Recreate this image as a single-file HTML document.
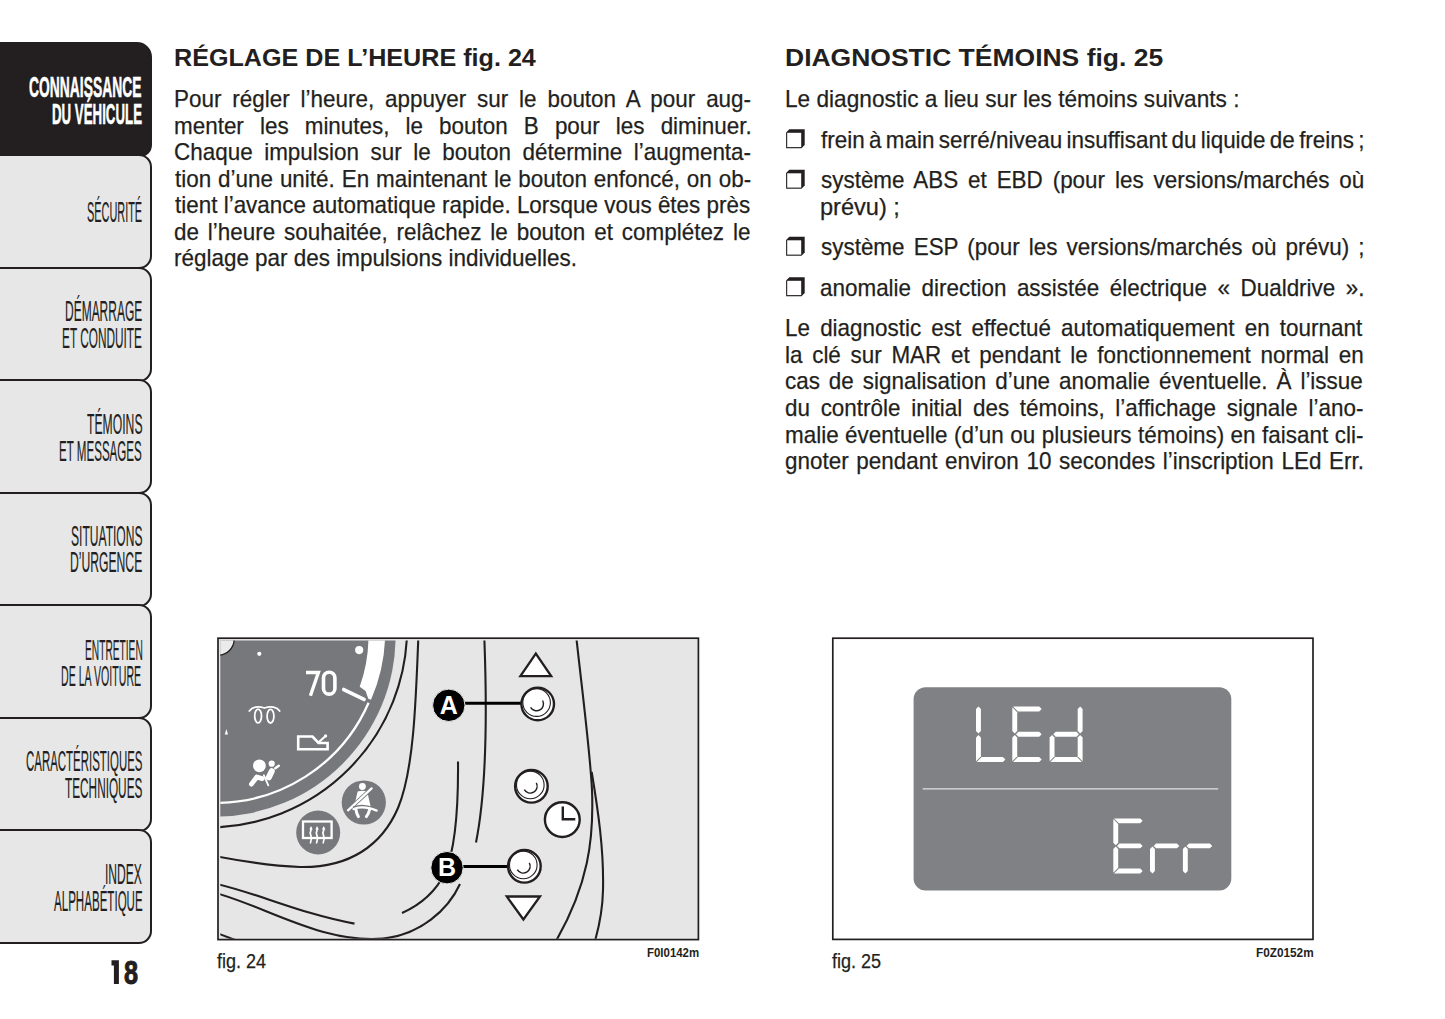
<!DOCTYPE html>
<html><head><meta charset="utf-8"><style>
html,body{margin:0;padding:0;background:#fff;}
body{width:1445px;height:1019px;position:relative;overflow:hidden;font-family:"Liberation Sans",sans-serif;color:#231f20;}
.t{position:absolute;white-space:nowrap;transform-origin:0 50%;}
.t.j{white-space:normal;text-align:justify;text-align-last:justify;}
.tab{position:absolute;left:-30px;width:182px;box-sizing:border-box;border:2.1px solid #231f20;border-radius:0 13px 13px 0;background:#e7e7e8;}
svg{position:absolute;overflow:hidden;}
</style></head><body>
<div class="tab" style="top:41.95px;height:114.6px;background:#231f20;border-radius:0 15px 12px 0;"></div>
<div class="tab" style="top:154.45px;height:114.6px;"></div>
<div class="tab" style="top:266.95px;height:114.6px;"></div>
<div class="tab" style="top:379.45px;height:114.6px;"></div>
<div class="tab" style="top:491.95px;height:114.6px;"></div>
<div class="tab" style="top:604.45px;height:114.6px;"></div>
<div class="tab" style="top:716.95px;height:114.6px;"></div>
<div class="tab" style="top:829.45px;height:114.6px;"></div>
<svg style="left:780px;top:120px" width="30" height="190" viewBox="780 120 30 190"><path d="M789.3 129.3 L804.7 129.3 L804.7 145.0 L801.5 148.2 L786.1 148.2 L786.1 132.5 Z" fill="#231f20"/><rect x="787.2" y="132.8" width="14.0" height="14.3" fill="#fff"/><path d="M789.3 169.8 L804.7 169.8 L804.7 185.5 L801.5 188.7 L786.1 188.7 L786.1 173.0 Z" fill="#231f20"/><rect x="787.2" y="173.3" width="14.0" height="14.3" fill="#fff"/><path d="M789.3 236.8 L804.7 236.8 L804.7 252.5 L801.5 255.7 L786.1 255.7 L786.1 240.0 Z" fill="#231f20"/><rect x="787.2" y="240.3" width="14.0" height="14.3" fill="#fff"/><path d="M789.3 277.3 L804.7 277.3 L804.7 293.0 L801.5 296.2 L786.1 296.2 L786.1 280.5 Z" fill="#231f20"/><rect x="787.2" y="280.8" width="14.0" height="14.3" fill="#fff"/></svg>
<svg style="left:105px;top:955px" width="20" height="35" viewBox="105 955 20 35"><path d="M111.5 960.2 L118.9 960.2 L118.9 983.9 L113.9 983.9 L113.9 965.6 L111.5 965.6 Z" fill="#231f20"/></svg>
<svg style="left:216px;top:636px" width="484" height="306" viewBox="216 636 484 306">
<defs><clipPath id="c24"><rect x="220.3" y="640.5" width="477.2" height="298.3"/></clipPath></defs>
<rect x="218" y="638.2" width="480.4" height="301.4" fill="#e6e6e7" stroke="#231f20" stroke-width="1.7"/>
<g clip-path="url(#c24)">
<circle cx="215" cy="636" r="180.6" fill="#77787b"/>
<circle cx="218" cy="639" r="16.2" fill="#ebebec" stroke="#231f20" stroke-width="1.3"/>
<path d="M368.5 625 L385 625 A168 168 0 0 1 371 699.8 L368.3 698.7 L365.6 691 L359.7 686.8 A151.5 151.5 0 0 0 368.5 637 Z" fill="#fff"/>
<path d="M368.6 702.8 A166.8 166.8 0 0 1 212 802.8" fill="none" stroke="#fff" stroke-width="2.3"/>
<line x1="343.8" y1="689.6" x2="364" y2="699.4" stroke="#fff" stroke-width="3.8" stroke-linecap="round"/>
<path d="M306 672.5 L318.4 672.5 L310.4 695.8" fill="none" stroke="#fff" stroke-width="3.4"/><rect x="323.5" y="672.2" width="11.4" height="21.9" rx="5.7" ry="5.7" fill="none" stroke="#fff" stroke-width="3.6"/>
<circle cx="259.3" cy="653.8" r="2.1" fill="#fff"/>
<circle cx="359.2" cy="650.1" r="4.1" fill="#fff"/>
<path d="M224.8 734.5 L226.4 729 L228 734.5 Z" fill="#fff"/>
<g fill="none" stroke="#fff" stroke-width="1.8" stroke-linecap="round">
<path d="M249.3 711 C252 707, 258 705.6, 264.4 708 C271 705.6, 277 707, 279.7 711"/>
<ellipse cx="258.1" cy="716" rx="3.4" ry="6.9"/>
<ellipse cx="270.5" cy="716.2" rx="3.4" ry="6.8"/>
</g>
<path d="M298.2 736.5 L312.5 736.5 L318.5 743 L327.6 743 L327.6 749.3 L298.2 749.3 Z" fill="none" stroke="#fff" stroke-width="2.6"/>
<line x1="319.5" y1="741.5" x2="325.6" y2="735.9" stroke="#fff" stroke-width="2.1" stroke-linecap="round"/>
<circle cx="325.6" cy="735.9" r="1.6" fill="#fff"/>
<circle cx="259.4" cy="765.8" r="6.4" fill="#fff"/>
<circle cx="271.7" cy="763.7" r="3.1" fill="#fff"/>
<g fill="none" stroke="#fff" stroke-linecap="round" stroke-linejoin="round">
<line x1="275.3" y1="768.2" x2="278.8" y2="765.8" stroke-width="2.5"/>
<line x1="271.8" y1="771.2" x2="268.8" y2="777.4" stroke-width="6"/>
<polyline points="251.4,784.1 256.8,777 262.2,778.6" stroke-width="4.8"/>
<line x1="263.8" y1="775.2" x2="268.3" y2="785.4" stroke-width="1.8"/>
</g>
<circle cx="363.8" cy="802.5" r="22.1" fill="#77787b"/>
<circle cx="362.4" cy="786.5" r="3.4" fill="#fff"/>
<path d="M357.6 791.6 Q362.2 789.8 367.2 791.4 L370.6 806.2 L354.2 806.2 Z" fill="#fff"/>
<line x1="347.6" y1="810.6" x2="372.2" y2="788" stroke="#77787b" stroke-width="4"/>
<line x1="348" y1="810.3" x2="371.6" y2="788.4" stroke="#fff" stroke-width="2.3" stroke-linecap="round"/>
<path d="M353 807.2 Q362.5 803.2 374 808" fill="none" stroke="#77787b" stroke-width="1.3"/>
<path d="M353.5 809 Q363 805.2 376.7 810.6" fill="none" stroke="#fff" stroke-width="2.3" stroke-linecap="round"/>
<path d="M355.8 809 Q356.6 814 358.4 816.6 M369.8 809 Q368.6 814 366.4 816.6" fill="none" stroke="#fff" stroke-width="3" stroke-linecap="round"/>
<circle cx="318.2" cy="832.5" r="22" fill="#77787b"/>
<rect x="303" y="821.5" width="28.6" height="16.5" fill="none" stroke="#fff" stroke-width="2.3"/>
<g fill="none" stroke="#fff" stroke-width="1.7" stroke-linecap="round">
<path d="M310.5 842.8 Q312 839 311 836 Q309.4 833 311 830 L311 828.3"/>
<path d="M316.6 842.8 Q318.1 839 317.1 836 Q315.5 833 317.1 830 L317.1 828.3"/>
<path d="M323.2 842.8 Q324.7 839 323.7 836 Q322.1 833 323.7 830 L323.7 828.3"/>
</g>
<path d="M309.3 829.6 L311 825.9 L312.7 829.6 Z M315.4 829.6 L317.1 825.9 L318.8 829.6 Z M322 829.6 L323.7 825.9 L325.4 829.6 Z" fill="#fff"/>
<g fill="none" stroke="#231f20" stroke-width="2.1">
<path d="M407.1 628 A199.4 199.4 0 0 1 208 827.5"/>
<path d="M418.6 630 C416 700 414 770 398 808 C382 845 350 868 300 867 C270 866 240 861 210 855"/>
<path d="M210 882.5 C250 890 300 914 354.5 923.6"/>
<path d="M210 891.5 C260 903 320 944 383 938.5 C420 935 448 910 460 884"/>
<path d="M210 930.5 L238 941"/>
<path d="M458 761.5 C458.5 815 455 850 445 873 C435 893 420 905 402 913"/>
<path d="M484 630 C486.5 690 488.5 780 476 842.5"/>
<path d="M575.5 630 C582 690 590 750 592 790 C594 840 588 885 556 941"/>
<path d="M591.7 772 C598 810 604 850 603 890 C602.5 915 598 930 595 941"/>
</g>
<path d="M535.8 653.6 L520.4 676.1 L551.2 676.1 Z" fill="#fff" stroke="#231f20" stroke-width="2.3" stroke-linejoin="miter"/>
<path d="M506.8 896.5 L540 896.5 L523.4 919.5 Z" fill="#fff" stroke="#231f20" stroke-width="2.3"/>
<line x1="449" y1="703.3" x2="522" y2="703.3" stroke="#000" stroke-width="3"/>
<line x1="447" y1="866.5" x2="510" y2="866.5" stroke="#000" stroke-width="3"/>
<g fill="#fff" stroke="#231f20">
<circle cx="537.7" cy="704" r="16.3" stroke-width="2.4"/>
<circle cx="531.4" cy="786.3" r="16.3" stroke-width="2.4"/>
<circle cx="524.4" cy="866.3" r="16.3" stroke-width="2.4"/>
<circle cx="562.3" cy="819.6" r="17.4" stroke-width="2.4"/>
</g>
<g fill="none" stroke="#231f20" stroke-width="1.1">
<circle cx="536.6" cy="702.6" r="13.8"/>
<path d="M530.6 707.3 A6.5 6.5 0 0 0 542.6 700.5" stroke-width="1.4"/>
<circle cx="530.3" cy="784.9" r="13.8"/>
<path d="M524.3 789.6 A6.5 6.5 0 0 0 536.3 782.8" stroke-width="1.4"/>
<circle cx="523.3" cy="864.9" r="13.8"/>
<path d="M517.3 869.6 A6.5 6.5 0 0 0 529.3 862.8" stroke-width="1.4"/>
</g>
<path d="M562.8 806.5 L562.8 819.3 L575.3 819.3" fill="none" stroke="#231f20" stroke-width="2.4"/>
<circle cx="448.8" cy="705.3" r="16.2" fill="#000" stroke="#e6e6e7" stroke-width="1"/>
<circle cx="447" cy="867.7" r="16.2" fill="#000" stroke="#e6e6e7" stroke-width="1"/>
<text x="448.8" y="713.5" font-family="Liberation Sans" font-weight="bold" font-size="25" fill="#fff" text-anchor="middle">A</text>
<text x="447" y="876" font-family="Liberation Sans" font-weight="bold" font-size="25" fill="#fff" text-anchor="middle">B</text>
</g>
</svg>

<svg style="left:831px;top:636px" width="484" height="306" viewBox="831 636 484 306">
<rect x="832.8" y="638.2" width="480.2" height="301.2" fill="#fff" stroke="#231f20" stroke-width="1.7"/>
<rect x="913.6" y="687.2" width="317.7" height="203.2" rx="12" ry="12" fill="#808184"/>
<line x1="922.7" y1="788.8" x2="1218.2" y2="788.8" stroke="#e2e2e3" stroke-width="1.3"/>
<g fill="#fff"><polygon points="981.60,757.00 1002.90,757.00 1005.35,759.45 1002.90,761.90 976.70,761.90"/><polygon points="976.00,709.05 978.45,706.60 980.90,709.05 980.90,731.08 978.45,733.53 976.00,731.08"/><polygon points="976.00,737.42 978.45,734.97 980.90,737.42 980.90,756.30 976.00,761.20"/><polygon points="1013.00,706.60 1039.20,706.60 1041.65,709.05 1039.20,711.50 1017.90,711.50"/><polygon points="1017.90,757.00 1039.20,757.00 1041.65,759.45 1039.20,761.90 1013.00,761.90"/><polygon points="1018.40,731.80 1039.20,731.80 1041.65,734.25 1039.20,736.70 1018.40,736.70 1015.95,734.25"/><polygon points="1012.30,707.30 1017.20,712.20 1017.20,731.08 1014.75,733.53 1012.30,731.08"/><polygon points="1012.30,737.42 1014.75,734.97 1017.20,737.42 1017.20,756.30 1012.30,761.20"/><polygon points="1055.20,757.00 1077.00,757.00 1081.90,761.90 1050.30,761.90"/><polygon points="1055.70,731.80 1076.50,731.80 1078.95,734.25 1076.50,736.70 1055.70,736.70 1053.25,734.25"/><polygon points="1049.60,737.42 1052.05,734.97 1054.50,737.42 1054.50,756.30 1049.60,761.20"/><polygon points="1077.70,709.05 1080.15,706.60 1082.60,709.05 1082.60,731.08 1080.15,733.53 1077.70,731.08"/><polygon points="1077.70,737.42 1080.15,734.97 1082.60,737.42 1082.60,761.20 1077.70,756.30"/><polygon points="1114.00,818.40 1140.20,818.40 1142.65,820.85 1140.20,823.30 1118.90,823.30"/><polygon points="1118.90,868.50 1140.20,868.50 1142.65,870.95 1140.20,873.40 1114.00,873.40"/><polygon points="1119.40,843.45 1140.20,843.45 1142.65,845.90 1140.20,848.35 1119.40,848.35 1116.95,845.90"/><polygon points="1113.30,819.10 1118.20,824.00 1118.20,842.73 1115.75,845.18 1113.30,842.73"/><polygon points="1113.30,849.07 1115.75,846.62 1118.20,849.07 1118.20,867.80 1113.30,872.70"/><polygon points="1156.10,843.45 1176.90,843.45 1179.35,845.90 1176.90,848.35 1156.10,848.35 1153.65,845.90"/><polygon points="1150.00,849.07 1152.45,846.62 1154.90,849.07 1154.90,870.95 1152.45,873.40 1150.00,870.95"/><polygon points="1189.00,843.45 1209.80,843.45 1212.25,845.90 1209.80,848.35 1189.00,848.35 1186.55,845.90"/><polygon points="1182.90,849.07 1185.35,846.62 1187.80,849.07 1187.80,870.95 1185.35,873.40 1182.90,870.95"/></g>
</svg>
<div class="t" style="top:72.20px;font-size:30.0px;line-height:30.0px;font-weight:700;color:#ffffff;left:29.44px;transform:scaleX(0.4624);-webkit-text-stroke:0.6px #fff;">CONNAISSANCE</div><div class="t" style="top:98.60px;font-size:30.0px;line-height:30.0px;font-weight:700;color:#ffffff;left:51.91px;transform:scaleX(0.4427);-webkit-text-stroke:0.6px #fff;">DU VÉHICULE</div><div class="t" style="top:198.42px;font-size:28.8px;line-height:28.8px;left:87.32px;transform:scaleX(0.3787);-webkit-text-stroke:0.2px #231f20;">SÉCURITÉ</div><div class="t" style="top:296.92px;font-size:28.8px;line-height:28.8px;left:64.57px;transform:scaleX(0.4161);-webkit-text-stroke:0.2px #231f20;">DÉMARRAGE</div><div class="t" style="top:323.92px;font-size:28.8px;line-height:28.8px;left:61.68px;transform:scaleX(0.4105);-webkit-text-stroke:0.2px #231f20;">ET CONDUITE</div><div class="t" style="top:410.12px;font-size:28.8px;line-height:28.8px;left:86.70px;transform:scaleX(0.4231);-webkit-text-stroke:0.2px #231f20;">TÉMOINS</div><div class="t" style="top:436.82px;font-size:28.8px;line-height:28.8px;left:59.20px;transform:scaleX(0.4020);-webkit-text-stroke:0.2px #231f20;">ET MESSAGES</div><div class="t" style="top:521.82px;font-size:28.8px;line-height:28.8px;left:70.68px;transform:scaleX(0.4191);-webkit-text-stroke:0.2px #231f20;">SITUATIONS</div><div class="t" style="top:548.12px;font-size:28.8px;line-height:28.8px;left:69.96px;transform:scaleX(0.4221);-webkit-text-stroke:0.2px #231f20;">D’URGENCE</div><div class="t" style="top:635.52px;font-size:28.8px;line-height:28.8px;left:84.59px;transform:scaleX(0.3538);-webkit-text-stroke:0.2px #231f20;">ENTRETIEN</div><div class="t" style="top:662.12px;font-size:28.8px;line-height:28.8px;left:61.36px;transform:scaleX(0.3685);-webkit-text-stroke:0.2px #231f20;">DE LA VOITURE</div><div class="t" style="top:747.02px;font-size:28.8px;line-height:28.8px;left:25.90px;transform:scaleX(0.3978);-webkit-text-stroke:0.2px #231f20;">CARACTÉRISTIQUES</div><div class="t" style="top:773.52px;font-size:28.8px;line-height:28.8px;left:65.00px;transform:scaleX(0.4099);-webkit-text-stroke:0.2px #231f20;">TECHNIQUES</div><div class="t" style="top:860.12px;font-size:28.8px;line-height:28.8px;left:104.86px;transform:scaleX(0.4196);-webkit-text-stroke:0.2px #231f20;">INDEX</div><div class="t" style="top:887.12px;font-size:28.8px;line-height:28.8px;left:53.50px;transform:scaleX(0.4016);-webkit-text-stroke:0.2px #231f20;">ALPHABÉTIQUE</div><div class="t" style="top:955.74px;font-size:33.5px;line-height:33.5px;font-weight:700;left:123.65px;transform:scaleX(0.7529);-webkit-text-stroke:1px #231f20;">8</div><div class="t" style="top:46.26px;font-size:24.5px;line-height:24.5px;font-weight:700;left:173.77px;transform:scaleX(1.0263);">RÉGLAGE DE L’HEURE fig. 24</div><div class="t j" style="top:87.38px;font-size:24.0px;line-height:24.0px;left:173.87px;width:617.18px;transform:scaleX(0.9350);word-spacing:-4px;-webkit-text-stroke:0.25px #231f20;">Pour régler l’heure, appuyer sur le bouton A pour aug-</div><div class="t j" style="top:113.83px;font-size:24.0px;line-height:24.0px;left:173.87px;width:617.86px;transform:scaleX(0.9350);word-spacing:-4px;-webkit-text-stroke:0.25px #231f20;">menter les minutes, le bouton B pour les diminuer.</div><div class="t j" style="top:140.28px;font-size:24.0px;line-height:24.0px;left:173.87px;width:617.18px;transform:scaleX(0.9350);word-spacing:-4px;-webkit-text-stroke:0.25px #231f20;">Chaque impulsion sur le bouton détermine l’augmenta-</div><div class="t j" style="top:166.73px;font-size:24.0px;line-height:24.0px;left:174.80px;width:616.18px;transform:scaleX(0.9350);word-spacing:-4px;-webkit-text-stroke:0.25px #231f20;">tion d’une unité. En maintenant le bouton enfoncé, on ob-</div><div class="t j" style="top:193.18px;font-size:24.0px;line-height:24.0px;left:174.80px;width:615.19px;transform:scaleX(0.9350);word-spacing:-4px;-webkit-text-stroke:0.25px #231f20;">tient l’avance automatique rapide. Lorsque vous êtes près</div><div class="t j" style="top:219.63px;font-size:24.0px;line-height:24.0px;left:173.87px;width:616.53px;transform:scaleX(0.9350);word-spacing:-4px;-webkit-text-stroke:0.25px #231f20;">de l’heure souhaitée, relâchez le bouton et complétez le</div><div class="t" style="top:246.08px;font-size:24.0px;line-height:24.0px;left:173.86px;transform:scaleX(0.9352);-webkit-text-stroke:0.25px #231f20;">réglage par des impulsions individuelles.</div><div class="t" style="top:46.26px;font-size:24.5px;line-height:24.5px;font-weight:700;left:784.92px;transform:scaleX(1.0810);">DIAGNOSTIC TÉMOINS fig. 25</div><div class="t" style="top:87.38px;font-size:24.0px;line-height:24.0px;left:785.06px;transform:scaleX(0.9438);-webkit-text-stroke:0.25px #231f20;">Le diagnostic a lieu sur les témoins suivants :</div><div class="t j" style="top:127.88px;font-size:24.0px;line-height:24.0px;left:820.50px;width:581.35px;transform:scaleX(0.9350);word-spacing:-4px;-webkit-text-stroke:0.25px #231f20;">frein à main serré/niveau insuffisant du liquide de freins ;</div><div class="t j" style="top:168.38px;font-size:24.0px;line-height:24.0px;left:820.50px;width:581.03px;transform:scaleX(0.9350);word-spacing:-4px;-webkit-text-stroke:0.25px #231f20;">système ABS et EBD (pour les versions/marchés où</div><div class="t" style="top:194.78px;font-size:24.0px;line-height:24.0px;left:819.52px;transform:scaleX(0.9823);-webkit-text-stroke:0.25px #231f20;">prévu) ;</div><div class="t j" style="top:235.38px;font-size:24.0px;line-height:24.0px;left:820.50px;width:581.35px;transform:scaleX(0.9350);word-spacing:-4px;-webkit-text-stroke:0.25px #231f20;">système ESP (pour les versions/marchés où prévu) ;</div><div class="t j" style="top:275.88px;font-size:24.0px;line-height:24.0px;left:819.57px;width:582.35px;transform:scaleX(0.9350);word-spacing:-4px;-webkit-text-stroke:0.25px #231f20;">anomalie direction assistée électrique « Dualdrive ».</div><div class="t j" style="top:315.98px;font-size:24.0px;line-height:24.0px;left:785.07px;width:617.25px;transform:scaleX(0.9350);word-spacing:-4px;-webkit-text-stroke:0.25px #231f20;">Le diagnostic est effectué automatiquement en tournant</div><div class="t j" style="top:342.68px;font-size:24.0px;line-height:24.0px;left:785.07px;width:618.93px;transform:scaleX(0.9350);word-spacing:-4px;-webkit-text-stroke:0.25px #231f20;">la clé sur MAR et pendant le fonctionnement normal en</div><div class="t j" style="top:369.38px;font-size:24.0px;line-height:24.0px;left:785.07px;width:617.93px;transform:scaleX(0.9350);word-spacing:-4px;-webkit-text-stroke:0.25px #231f20;">cas de signalisation d’une anomalie éventuelle. À l’issue</div><div class="t j" style="top:396.08px;font-size:24.0px;line-height:24.0px;left:785.07px;width:618.57px;transform:scaleX(0.9350);word-spacing:-4px;-webkit-text-stroke:0.25px #231f20;">du contrôle initial des témoins, l’affichage signale l’ano-</div><div class="t j" style="top:422.78px;font-size:24.0px;line-height:24.0px;left:785.07px;width:618.57px;transform:scaleX(0.9350);word-spacing:-4px;-webkit-text-stroke:0.25px #231f20;">malie éventuelle (d’un ou plusieurs témoins) en faisant cli-</div><div class="t j" style="top:449.48px;font-size:24.0px;line-height:24.0px;left:785.07px;width:619.25px;transform:scaleX(0.9350);word-spacing:-4px;-webkit-text-stroke:0.25px #231f20;">gnoter pendant environ 10 secondes l’inscription LEd Err.</div><div class="t" style="top:951.04px;font-size:20.5px;line-height:20.5px;left:216.90px;transform:scaleX(0.8802);-webkit-text-stroke:0.25px #231f20;">fig. 24</div><div class="t" style="top:951.04px;font-size:20.5px;line-height:20.5px;left:831.50px;transform:scaleX(0.8802);-webkit-text-stroke:0.25px #231f20;">fig. 25</div><div class="t" style="top:946.94px;font-size:12.0px;line-height:12.0px;font-weight:700;left:646.60px;transform:scaleX(0.9531);">F0I0142m</div><div class="t" style="top:946.94px;font-size:12.0px;line-height:12.0px;font-weight:700;left:1256.00px;transform:scaleX(0.9823);">F0Z0152m</div>
</body></html>
